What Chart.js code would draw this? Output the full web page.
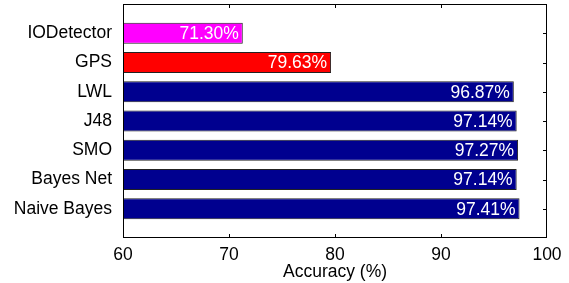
<!DOCTYPE html>
<html>
<head>
<meta charset="utf-8">
<script src="https://cdn.jsdelivr.net/npm/chart.js@4/dist/chart.umd.min.js"></script>
<style>
html,body{margin:0;padding:0;background:#fff;}
#wrap{width:569px;height:283px;position:relative;}
</style>
</head>
<body>
<div id="wrap"><canvas id="c" width="569" height="283"></canvas></div>
<script>
const categories = ['IODetector', 'GPS', 'LWL', 'J48', 'SMO', 'Bayes Net', 'Naive Bayes'];
const accuracy = [71.30, 79.63, 96.87, 97.14, 97.27, 97.14, 97.41];
const barColors = ['#FF00FF', '#FF0000', '#00008F', '#00008F', '#00008F', '#00008F', '#00008F'];
const xTicks = [60, 70, 80, 90, 100];
const xTitle = 'Accuracy (%)';

const FONT = 'Liberation Sans, Arial, Helvetica, sans-serif';
const labels = [''].concat(categories, ['']);
const data = [null].concat(accuracy, [null]);
const colors = ['#fff'].concat(barColors, ['#fff']);

const innerTicks = {
  id: 'innerTicks',
  afterDraw(chart) {
    const ctx = chart.ctx, a = chart.chartArea;
    const xs = chart.scales.x, ys = chart.scales.y;
    ctx.save();
    ctx.strokeStyle = '#000';
    ctx.lineWidth = 1;
    ctx.beginPath();
    xTicks.slice(1, -1).forEach(v => {
      const px = Math.round(xs.getPixelForValue(v)) + 0.5;
      ctx.moveTo(px, a.bottom); ctx.lineTo(px, a.bottom - 4);
      ctx.moveTo(px, a.top); ctx.lineTo(px, a.top + 4);
    });
    for (let i = 1; i <= categories.length; i++) {
      const py = Math.round(ys.getPixelForValue(i)) + 0.5;
      ctx.moveTo(a.right, py); ctx.lineTo(a.right - 4, py);
    }
    ctx.stroke();
    ctx.strokeRect(Math.round(a.left) + 0.5, Math.round(a.top) + 0.5,
                   Math.round(a.right - a.left) - 1, Math.round(a.bottom - a.top) - 1);
    const meta = chart.getDatasetMeta(0);
    ctx.fillStyle = '#fff';
    ctx.font = '17.5px ' + FONT;
    ctx.textAlign = 'right';
    ctx.textBaseline = 'middle';
    meta.data.forEach((bar, i) => {
      const v = data[i];
      if (v == null) return;
      ctx.fillText(v.toFixed(2) + '%', bar.x - 4, bar.y + 1);
    });
    ctx.restore();
  }
};

new Chart(document.getElementById('c'), {
  type: 'bar',
  data: {
    labels: labels,
    datasets: [{
      data: data,
      backgroundColor: colors,
      borderColor: '#222',
      borderWidth: 1,
      categoryPercentage: 1,
      barPercentage: 0.72
    }]
  },
  options: {
    indexAxis: 'y',
    responsive: false,
    animation: false,
    devicePixelRatio: 1,
    layout: { padding: { top: 4, right: 22, left: 0, bottom: 0 } },
    plugins: { legend: { display: false }, tooltip: { enabled: false } },
    scales: {
      x: {
        type: 'linear',
        min: 60, max: 100,
        afterBuildTicks(s) { s.ticks = xTicks.map(v => ({ value: v })); },
        afterFit(s) { s.height = 45; s.paddingLeft = 0; s.paddingRight = 0; },
        grid: { display: false, drawTicks: false },
        border: { display: false },
        ticks: { color: '#000', font: { family: FONT, size: 17.5 }, padding: 7, maxRotation: 0 },
        title: { display: true, text: xTitle, color: '#000', font: { family: FONT, size: 17.5 }, padding: { top: 1, bottom: 0 } }
      },
      y: {
        type: 'category',
        offset: false,
        afterFit(s) { s.width = 123; s.paddingTop = 0; s.paddingBottom = 0; },
        grid: { display: false, drawTicks: false },
        border: { display: false },
        ticks: { color: '#000', font: { family: FONT, size: 17.5 }, padding: 11, autoSkip: false }
      }
    }
  },
  plugins: [innerTicks]
});
</script>
</body>
</html>
